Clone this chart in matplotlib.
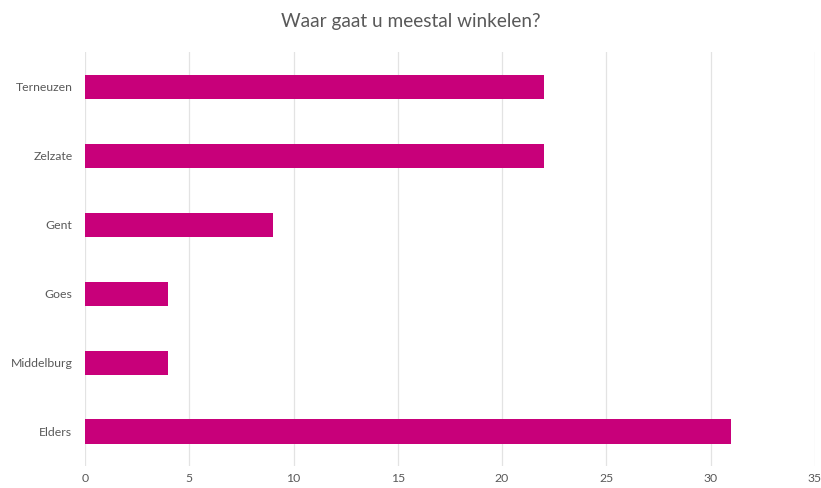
import matplotlib
matplotlib.use("Agg")
import matplotlib.pyplot as plt

# Survey answers: where do respondents usually shop
places = ["Terneuzen", "Zelzate", "Gent", "Goes", "Middelburg", "Elders"]
counts = [22, 22, 9, 4, 4, 31]
x_ticks = [0, 5, 10, 15, 20, 25, 30, 35]
title = "Waar gaat u meestal winkelen?"

bar_color = "#C8007A"
text_color = "#595959"
grid_color = "#E3E3E3"

plt.rcParams["font.family"] = ["Lato", "DejaVu Sans"]

fig = plt.figure(figsize=(8.21, 4.88), dpi=100)
ax = fig.add_axes([0.1035, 0.045, 0.889, 0.848])

ypos = list(range(len(places)))
ax.barh(ypos, counts, height=0.35, color=bar_color, zorder=3)
ax.set_yticks(ypos)
ax.set_yticklabels(places)
ax.set_ylim(len(places) - 0.5, -0.5)
ax.set_xlim(0, 35)
ax.set_xticks(x_ticks)
ax.set_xticklabels([str(t) for t in x_ticks])

ax.grid(axis="x", color=grid_color, linewidth=0.9, zorder=0)
for s in ax.spines.values():
    s.set_visible(False)
ax.tick_params(axis="both", length=0, labelsize=8.8, colors=text_color)
ax.tick_params(axis="x", pad=5)
ax.tick_params(axis="y", pad=9)

fig.text(0.5, 0.955, title, ha="center", va="center", fontsize=13.7, color=text_color)

fig.savefig("out.png", dpi=100)
